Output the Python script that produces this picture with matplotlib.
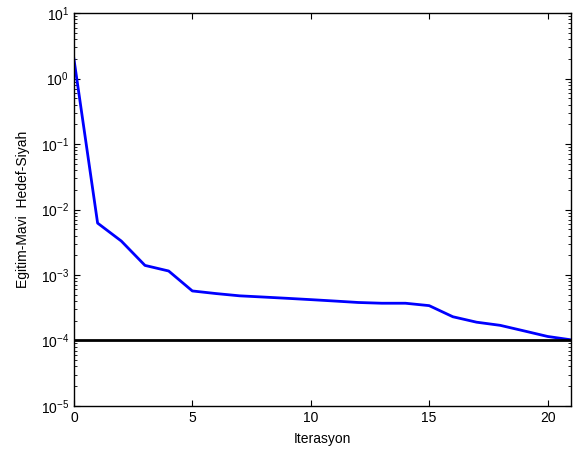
import matplotlib
matplotlib.use("Agg")
import matplotlib.pyplot as plt
from matplotlib.ticker import LogLocator

plt.rcParams['font.family'] = ['Liberation Sans', 'DejaVu Sans']
plt.rcParams['mathtext.default'] = 'regular'

iterations = list(range(0, 22))
training = [2.0, 0.0062, 0.0033, 0.0014, 0.00115, 0.00057, 0.00052, 0.00048,
            0.00046, 0.00044, 0.00042, 0.00040, 0.00038, 0.00037, 0.00037,
            0.00034, 0.00023, 0.00019, 0.00017, 0.00014, 0.000115, 0.000102]
goal = 1e-4
x_ticks = [0, 5, 10, 15, 20]

fig = plt.figure(figsize=(5.73, 4.53), dpi=100)
ax = fig.add_axes([0.129, 0.104, 0.868, 0.867])
ax.semilogy(iterations, training, color='#0000ff', lw=2)
ax.axhline(goal, color='black', lw=2)
ax.set_xlim(0, 21)
ax.set_ylim(1e-5, 1e1)
ax.set_xticks(x_ticks)
ax.yaxis.set_major_locator(LogLocator(base=10, numticks=10))
ax.yaxis.set_minor_locator(LogLocator(base=10, subs=range(2, 10), numticks=20))
ax.tick_params(which='both', direction='in', top=True, right=True, labelsize=10)
ax.tick_params(which='major', length=4, width=0.8)
ax.tick_params(which='minor', length=2, width=0.6)
for s in ax.spines.values():
    s.set_linewidth(1.0)
ax.set_xlabel('Iterasyon', fontsize=10, labelpad=5)
ax.set_ylabel('Egitim-Mavi  Hedef-Siyah', fontsize=10, labelpad=8)
fig.savefig('out.png', dpi=100)
